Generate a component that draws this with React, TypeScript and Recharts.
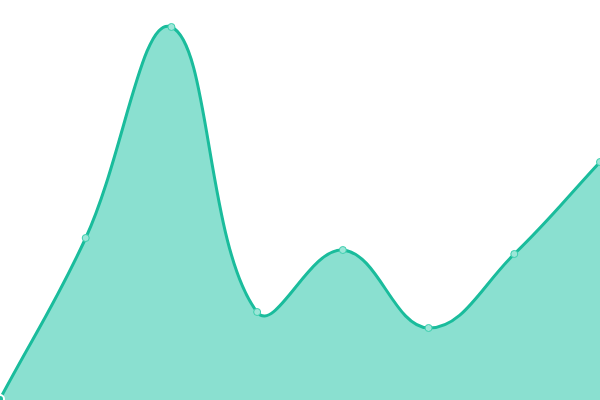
import { AreaChart, Area, XAxis, YAxis } from 'recharts';

const labels = ['A', 'B', 'C', 'D', 'E', 'F', 'G', 'H'];
const values = [1, 162, 373, 88, 150, 72, 146, 238];

const data = labels.map((name, i) => ({ name, value: values[i] }));

const TENSION = 0.4;

// spline like chart.js' default line tension, written as a d3 curve factory
function tensionCurve(context: any) {
  let pts: number[][] = [];
  let line: number;
  return {
    areaStart() { line = 0; },
    areaEnd() { line = NaN; },
    lineStart() { pts = []; },
    point(x: number, y: number) { pts.push([+x, +y]); },
    lineEnd() {
      const n = pts.length;
      if (n) {
        if (line) context.lineTo(pts[0][0], pts[0][1]);
        else context.moveTo(pts[0][0], pts[0][1]);
        const cps = pts.map((cur, i) => {
          const prev = pts[i - 1] || cur;
          const next = pts[i + 1] || cur;
          const d01 = Math.hypot(cur[0] - prev[0], cur[1] - prev[1]);
          const d12 = Math.hypot(next[0] - cur[0], next[1] - cur[1]);
          const tot = d01 + d12 || 1;
          const fa = TENSION * (d01 / tot);
          const fb = TENSION * (d12 / tot);
          return {
            prev: [cur[0] - fa * (next[0] - prev[0]), cur[1] - fa * (next[1] - prev[1])],
            next: [cur[0] + fb * (next[0] - prev[0]), cur[1] + fb * (next[1] - prev[1])],
          };
        });
        for (let i = 1; i < n; i++) {
          const a = cps[i - 1].next;
          const b = cps[i].prev;
          context.bezierCurveTo(a[0], a[1], b[0], b[1], pts[i][0], pts[i][1]);
        }
      }
      if (line || (line !== 0 && n === 1)) context.closePath();
      line = 1 - line;
    },
  };
}

export default function App() {
  document.body.style.margin = '0';
  return (
    <AreaChart width={600} height={400} data={data} margin={{ top: 0, right: 0, bottom: 0, left: 0 }}>
      <XAxis dataKey="name" hide />
      <YAxis domain={[0, 400]} hide />
      <Area
        type={tensionCurve as any}
        dataKey="value"
        stroke="#1abc9c"
        strokeWidth={3}
        fill="#8ae0d0"
        fillOpacity={1}
        dot={{ r: 3.5, fill: '#9ce6d8', stroke: '#3ccfae', strokeWidth: 1, fillOpacity: 1 }}
        isAnimationActive={false}
      />
    </AreaChart>
  );
}
